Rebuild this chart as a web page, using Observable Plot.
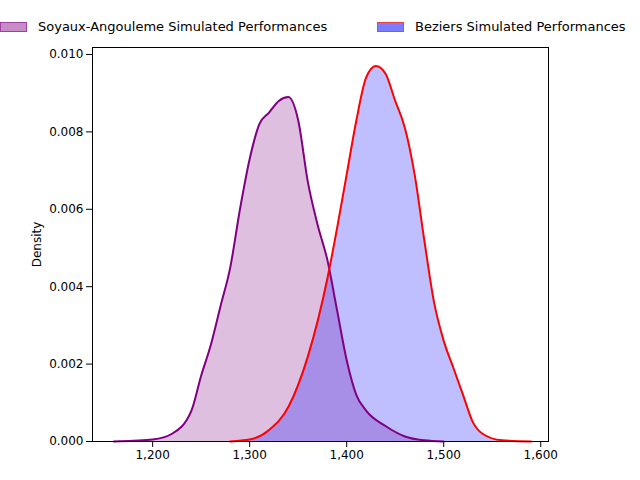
<!DOCTYPE html>
<html><head>
<script src="https://cdn.jsdelivr.net/npm/d3@7"></script>
<script src="https://cdn.jsdelivr.net/npm/@observablehq/plot@0.6"></script>
<style>
body{margin:0;font-family:"DejaVu Sans",sans-serif;}
#legend{height:36px;position:relative;font-size:13px;}
.item{position:absolute;top:19px;display:flex;align-items:center;}
.sw{width:27px;height:10px;margin-right:11px;box-sizing:border-box;}
</style>
</head><body>
<div id="legend">
  <div class="item" style="left:0px"><div class="sw" style="background:rgba(128,0,128,0.45);border:1px solid #a040a0"></div>Soyaux-Angouleme Simulated Performances</div>
  <div class="item" style="left:377px"><div class="sw" style="background:rgba(80,80,255,0.75);border:1px solid #f04040"></div>Beziers Simulated Performances</div>
</div>
<div id="chart"></div>
<script>
const soyauxX = [1160,1180,1200,1220,1240,1250,1260,1270,1280,1290,1300,1310,1320,1330,1340,1350,1360,1370,1380,1390,1400,1410,1420,1440,1460,1480,1500];
const soyauxY = [0,0.00002,0.00005,0.0002,0.0008,0.0017,0.0025,0.0035,0.0045,0.006,0.0073,0.0082,0.0085,0.0088,0.0089,0.0083,0.0067,0.0056,0.0047,0.0034,0.0021,0.0012,0.0008,0.0004,0.00013,0.00003,0];
const beziersX = [1280,1300,1320,1340,1360,1380,1390,1400,1410,1420,1430,1440,1450,1460,1470,1480,1490,1500,1510,1520,1530,1540,1560,1590];
const beziersY = [0,0.00005,0.0003,0.0009,0.0022,0.0042,0.0055,0.0069,0.0083,0.0094,0.0097,0.0095,0.0088,0.0081,0.0069,0.0052,0.0036,0.0026,0.0019,0.0012,0.0005,0.0002,0.00003,0];

const soyaux = soyauxX.map((x, i) => ({x, y: soyauxY[i]}));
const beziers = beziersX.map((x, i) => ({x, y: beziersY[i]}));

const chart = Plot.plot({
  width: 640, height: 444,
  marginTop: 11, marginBottom: 39, marginLeft: 92, marginRight: 92,
  style: {fontFamily: "DejaVu Sans, sans-serif", fontSize: "12px", color: "black"},
  x: {domain: [1138, 1608], ticks: [1200,1300,1400,1500,1600], tickFormat: d => d, label: null},
  y: {domain: [0, 0.01018], ticks: d3.range(0, 0.0101, 0.002), tickFormat: d3.format(".3f"), label: "Density", labelAnchor: "center", labelArrow: "none", labelOffset: 60},
  marks: [
    Plot.areaY(soyaux, {x: "x", y: "y", fill: "purple", fillOpacity: 0.25, curve: "monotone-x"}),
    Plot.areaY(beziers, {x: "x", y: "y", fill: "blue", fillOpacity: 0.25, curve: "monotone-x"}),
    Plot.lineY(soyaux, {x: "x", y: "y", stroke: "purple", strokeWidth: 2, curve: "monotone-x"}),
    Plot.lineY(beziers, {x: "x", y: "y", stroke: "red", strokeWidth: 2, curve: "monotone-x"}),
    Plot.frame({stroke: "black"})
  ]
});
d3.select("#chart").append(() => chart);
</script>
</body></html>
